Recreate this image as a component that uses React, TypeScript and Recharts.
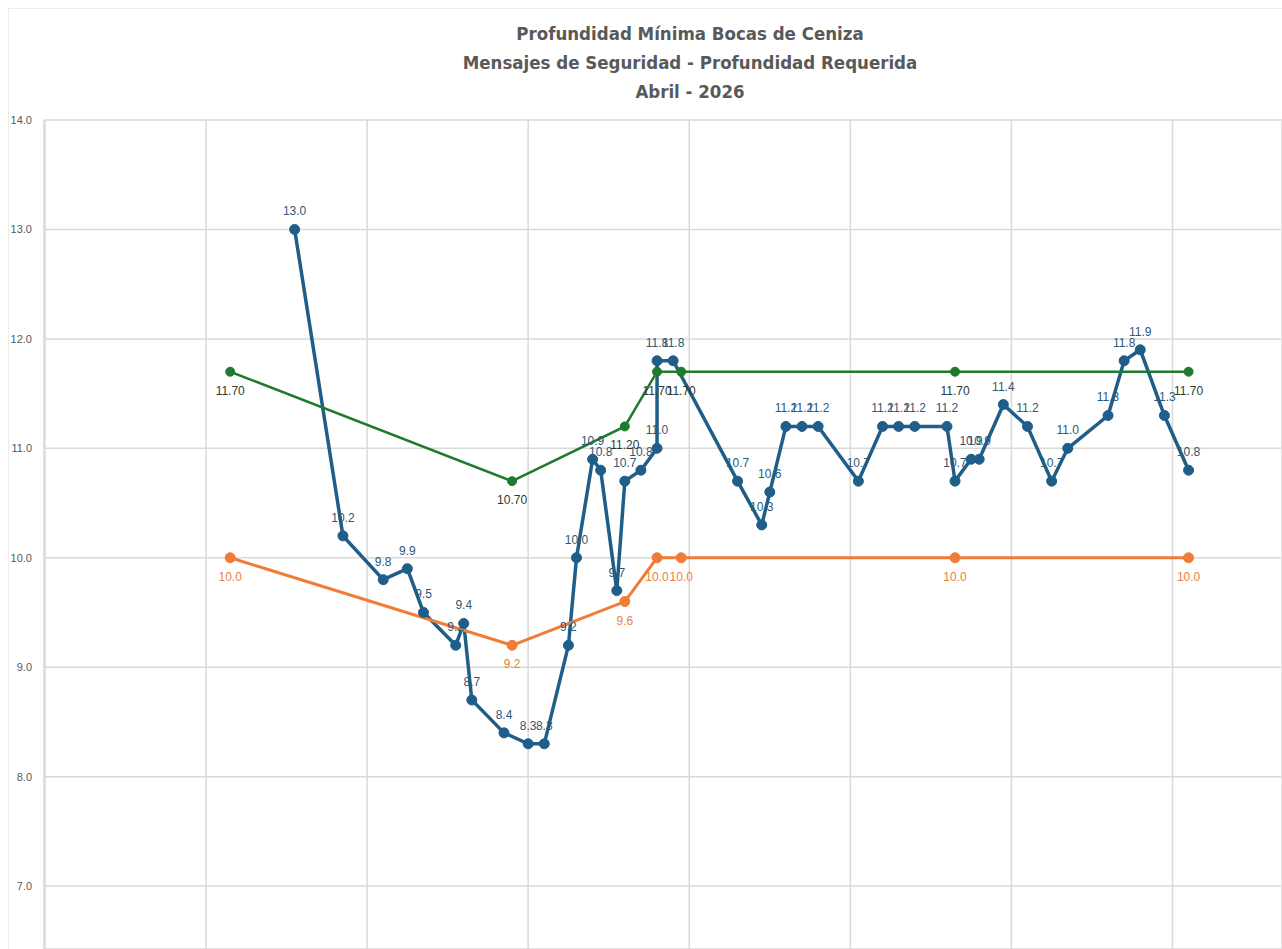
import React from "react";
import { LineChart, Line, XAxis, YAxis, CartesianGrid, LabelList } from "recharts";

// x = day position along the time axis, y = depth (m)
const medidaX = [7.75, 9.25, 10.5, 11.25, 11.75, 12.75, 13, 13.25, 14.25, 15, 15.5, 16.25, 16.5, 17, 17.25, 17.75, 18, 18.5, 19, 19, 19.5, 21.5, 22.25, 22.5, 23, 23.5, 24, 25.25, 26, 26.5, 27, 28, 28.25, 28.75, 29, 29.75, 30.5, 31.25, 31.75, 33, 33.5, 34, 34.75, 35.5];
const medidaY = [13.0, 10.2, 9.8, 9.9, 9.5, 9.2, 9.4, 8.7, 8.4, 8.3, 8.3, 9.2, 10.0, 10.9, 10.8, 9.7, 10.7, 10.8, 11.0, 11.8, 11.8, 10.7, 10.3, 10.6, 11.2, 11.2, 11.2, 10.7, 11.2, 11.2, 11.2, 11.2, 10.7, 10.9, 10.9, 11.4, 11.2, 10.7, 11.0, 11.3, 11.8, 11.9, 11.3, 10.8];

const requeridaX = [5.75, 14.5, 18, 19, 19.75, 28.25, 35.5];
const seguridadY = [11.7, 10.7, 11.2, 11.7, 11.7, 11.7, 11.7];
const minimaY = [10.0, 9.2, 9.6, 10.0, 10.0, 10.0, 10.0];

const yTicks = [7, 8, 9, 10, 11, 12, 13, 14];
const xTicks = [0, 5, 10, 15, 20, 25, 30, 35];

const titleLines = [
  "Profundidad Mínima Bocas de Ceniza",
  "Mensajes de Seguridad - Profundidad Requerida",
  "Abril - 2026",
];

const medida = medidaX.map((x, i) => ({ x, y: medidaY[i] }));
const seguridad = requeridaX.map((x, i) => ({ x, y: seguridadY[i] }));
const minima = requeridaX.map((x, i) => ({ x, y: minimaY[i] }));

const BLUE = "#1F5E88";
const GREEN = "#1F7A30";
const ORANGE = "#F07C38";

const makeLabel = (color: string, dy: number, digits: number) => (props: any) => {
  const { x, y, value } = props;
  return (
    <text
      x={x}
      y={y + dy}
      textAnchor="middle"
      dominantBaseline="central"
      fontFamily="'Liberation Sans', Arial, sans-serif"
      fontSize={12}
      fill={color}
    >
      {Number(value).toFixed(digits)}
    </text>
  );
};

export default function App() {
  return (
    <div style={{ position: "absolute", left: 0, top: 0, width: 1282, height: 949, background: "#fff", overflow: "hidden" }}>
      <svg width={1282} height={949} style={{ position: "absolute", left: 0, top: 0 }}>
        <rect x={8.5} y={8.5} width={1300} height={1000} fill="none" stroke="#ececec" strokeWidth={1} />
        {titleLines.map((t, i) => (
          <text
            key={i}
            x={690}
            y={33 + i * 29}
            textAnchor="middle"
            dominantBaseline="central"
            fontFamily="'DejaVu Sans Condensed', 'DejaVu Sans', sans-serif"
            fontWeight="bold"
            fontSize={18.5}
            fill="#595959"
          >
            {t}
          </text>
        ))}
      </svg>
      <div style={{ position: "absolute", left: 0, top: 0 }}>
        <LineChart width={1282} height={949} margin={{ top: 120, right: 0, bottom: 0, left: 0 }}>
          <CartesianGrid stroke="#d9d9d9" strokeWidth={1.5} />
          <XAxis type="number" dataKey="x" domain={[-0.03, 38.4]} ticks={xTicks} hide allowDataOverflow />
          <YAxis
            type="number"
            dataKey="y"
            domain={[6.425, 14]}
            ticks={yTicks}
            width={44}
            allowDataOverflow
            axisLine={false}
            tickLine={false}
            tickMargin={6}
            tickFormatter={(v: number) => v.toFixed(1)}
            tick={{ fontSize: 11, fill: "#595959", fontFamily: "'Liberation Sans', Arial, sans-serif" }}
          />
          <Line
            data={medida}
            dataKey="y"
            stroke={BLUE}
            strokeWidth={3.5}
            dot={{ r: 5, fill: BLUE, stroke: BLUE, strokeWidth: 1 }}
            isAnimationActive={false}
          >
            <LabelList dataKey="y" content={makeLabel("#2E5876", -18, 1)} />
          </Line>
          <Line
            data={seguridad}
            dataKey="y"
            stroke={GREEN}
            strokeWidth={2.5}
            dot={{ r: 4.5, fill: GREEN, stroke: GREEN, strokeWidth: 1 }}
            isAnimationActive={false}
          >
            <LabelList dataKey="y" content={makeLabel("#2F3A30", 19, 2)} />
          </Line>
          <Line
            data={minima}
            dataKey="y"
            stroke={ORANGE}
            strokeWidth={3}
            dot={{ r: 5, fill: ORANGE, stroke: ORANGE, strokeWidth: 1 }}
            isAnimationActive={false}
          >
            <LabelList dataKey="y" content={makeLabel("#E8823C", 19, 1)} />
          </Line>
        </LineChart>
      </div>
    </div>
  );
}
